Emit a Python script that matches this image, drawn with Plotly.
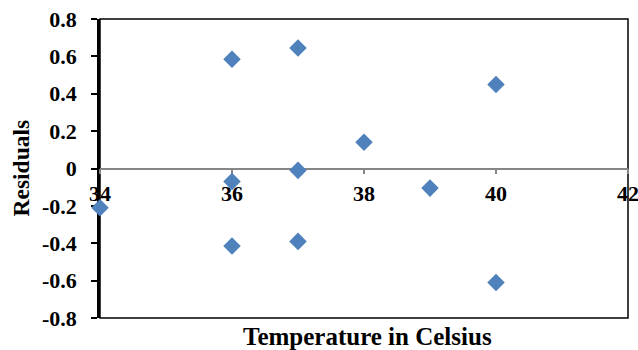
import plotly.graph_objects as go

# Data
temperature = [34, 36, 36, 36, 37, 37, 37, 38, 39, 40, 40]
residuals = [-0.21, 0.585, -0.07, -0.415, 0.645, -0.01, -0.39, 0.14, -0.105, 0.45, -0.61]

x_ticks = [34, 36, 38, 40, 42]
x_tick_labels = ["34", "36", "38", "40", "42"]
y_ticks = [0.8, 0.6, 0.4, 0.2, 0, -0.2, -0.4, -0.6, -0.8]
y_tick_labels = ["0.8", "0.6", "0.4", "0.2", "0", "-0.2", "-0.4", "-0.6", "-0.8"]

x_title = "Temperature in Celsius"
y_title = "Residuals"

FONT = "Liberation Serif, Times New Roman, serif"

fig = go.Figure()
fig.add_trace(go.Scatter(
    x=temperature, y=residuals, mode="markers",
    marker=dict(symbol="diamond", size=13.5, color="#4F81BD",
                line=dict(width=0)),
    cliponaxis=False, showlegend=False, hoverinfo="x+y",
))

fig.update_layout(
    width=638, height=350,
    margin=dict(l=100, r=10, t=19, b=32, autoexpand=False),
    paper_bgcolor="white", plot_bgcolor="white",
    showlegend=False,
    xaxis=dict(
        range=[34, 42], anchor="free", position=0.5,
        tickvals=x_ticks, ticktext=x_tick_labels,
        showgrid=False, zeroline=False,
        showline=True, linecolor="#868686", linewidth=1.5,
        ticks="outside", ticklen=5, tickwidth=1.5, tickcolor="#868686",
        tickfont=dict(family=FONT, size=22, color="black", weight="bold"),
        ticklabeloverflow="allow", automargin=False,
        layer="below traces",
    ),
    yaxis=dict(
        range=[-0.8, 0.8], domain=[0, 1],
        tickvals=y_ticks, ticktext=y_tick_labels,
        showgrid=False, zeroline=False,
        showline=True, linecolor="black", linewidth=2.5,
        ticks="outside", ticklen=6, tickwidth=1.5, tickcolor="black",
        tickfont=dict(family=FONT, size=22, color="black", weight="bold"),
        ticklabelstandoff=10, automargin=False,
        layer="below traces",
    ),
    shapes=[dict(type="rect", xref="paper", yref="paper", x0=0, x1=1, y0=0, y1=1,
                 line=dict(color="black", width=1.5), layer="below")],
    annotations=[
        dict(text=x_title, xref="paper", yref="paper", x=0.5, y=0,
             xanchor="center", yanchor="middle", yshift=-18, xshift=3,
             showarrow=False,
             font=dict(family=FONT, size=25, color="black", weight="bold")),
        dict(text=y_title, xref="paper", yref="paper", x=0, y=0.5,
             xanchor="center", yanchor="middle", xshift=-80, textangle=-90,
             showarrow=False,
             font=dict(family=FONT, size=23.5, color="black", weight="bold")),
    ],
)

fig.write_html("out.html")
